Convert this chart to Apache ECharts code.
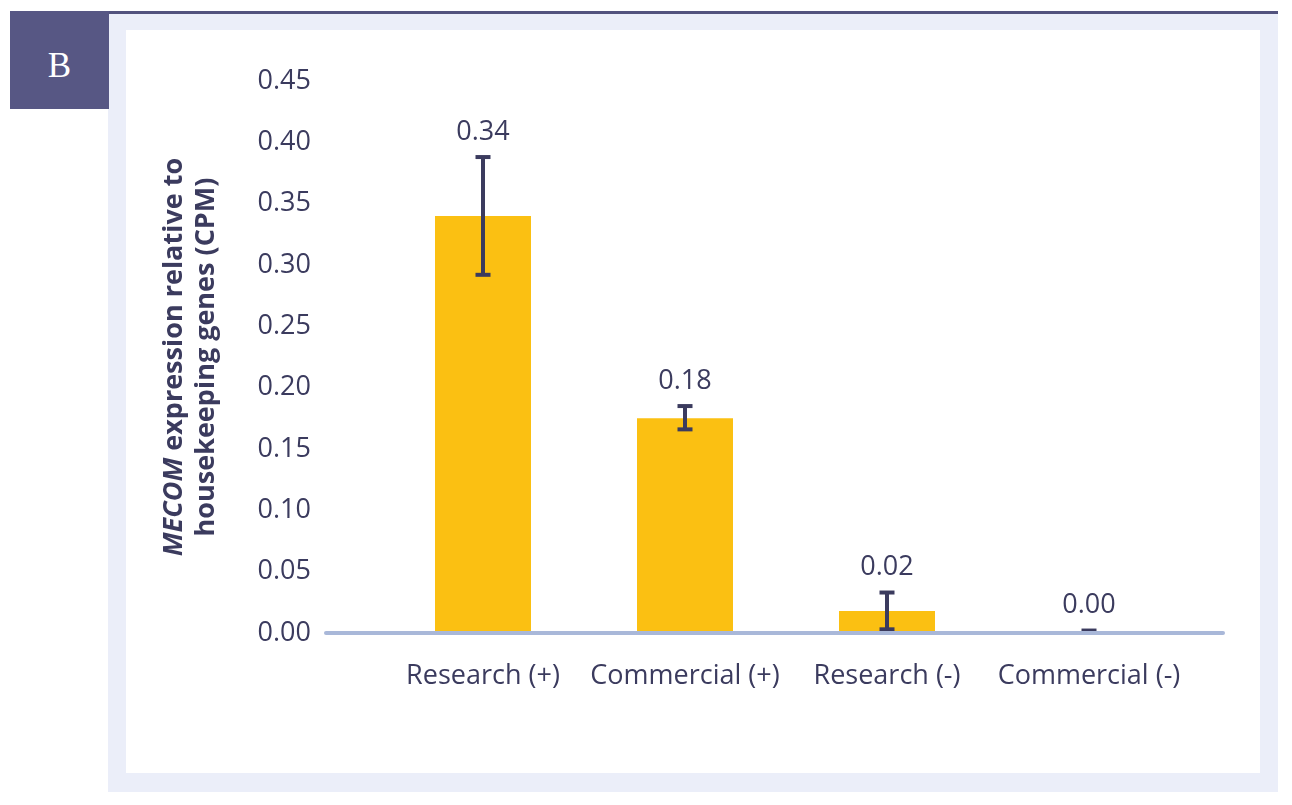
<!DOCTYPE html>
<html lang="en">
    <head>
        <meta charset='utf-8'>
        <title>MECOM expression</title>
        <script src='https://cdn.jsdelivr.net/npm/echarts@6/dist/echarts.min.js'></script>
        <style>
            html, body { margin:0; padding:0; background:#fff; }
            #topLine { position:absolute; left:10px; top:11px; width:1268px; height:4px; background:#52527e; }
            #panel { position:absolute; left:108px; top:14px; width:1170px; height:778px; background:#ebeef9; }
            #inner { position:absolute; left:126px; top:30px; width:1134px; height:743px; background:#fff; }
            #tag { position:absolute; left:10px; top:11px; width:99px; height:98px; background:#575784;
                   color:#fff; font-family:'Liberation Serif', serif; font-size:35px; line-height:110px; text-align:center; }
            #main { position:absolute; left:0; top:0; width:1292px; height:805px; }
        </style>
    </head>
    <body>
        <div id='topLine'></div>
        <div id='panel'></div>
        <div id='inner'></div>
        <div id='tag'>B</div>
        <div id='main'></div>
        <script>
            // data
            var categories = ['Research (+)', 'Commercial (+)', 'Research (-)', 'Commercial (-)'];
            var means      = [0.34, 0.175, 0.018, 0.0];
            var errLow     = [0.292, 0.166, 0.003, 0.0];
            var errHigh    = [0.388, 0.185, 0.033, 0.002];
            var valueLabels = ['0.34', '0.18', '0.02', '0.00'];
            var yTicks = [0, 0.05, 0.10, 0.15, 0.20, 0.25, 0.30, 0.35, 0.40, 0.45];

            var textColor = '#3b3b5e';
            var font = "'Open Sans', sans-serif";

            var errData = categories.map(function (c, i) {
                return [i, errLow[i], errHigh[i]];
            });

            var chart = echarts.init(document.getElementById('main'));
            var option = {
                animation: false,
                textStyle: { fontFamily: font, color: textColor },
                grid: [
                    { left: 382, right: 102, top: 81, bottom: 172 },   // bars
                    { left: 326, right: 69, top: 81, bottom: 172 }     // long baseline
                ],
                xAxis: [
                    {
                        type: 'category',
                        gridIndex: 0,
                        data: categories,
                        axisLine: { show: false },
                        axisTick: { show: false },
                        axisLabel: { fontSize: 27, color: textColor, margin: 30, fontFamily: font, interval: 0 }
                    },
                    {
                        type: 'value',
                        gridIndex: 1,
                        z: 5,
                        axisLine: { show: true, onZero: false, lineStyle: { color: '#a9b8d9', width: 4 } },
                        axisTick: { show: false },
                        axisLabel: { show: false },
                        splitLine: { show: false }
                    }
                ],
                yAxis: [
                    {
                        type: 'value',
                        gridIndex: 0,
                        min: yTicks[0],
                        max: yTicks[yTicks.length - 1],
                        interval: 0.05,
                        axisLine: { show: false },
                        axisTick: { show: false },
                        splitLine: { show: false },
                        axisLabel: {
                            fontSize: 27, color: textColor, margin: 71, fontFamily: font,
                            formatter: function (v) { return v.toFixed(2); }
                        },
                        name: '{i|MECOM} expression relative to\nhousekeeping genes (CPM)',
                        nameLocation: 'middle',
                        nameGap: 160,
                        nameRotate: 90,
                        nameTextStyle: {
                            fontSize: 27, fontWeight: 'bold', color: textColor, fontFamily: font,
                            lineHeight: 32, align: 'center',
                            rich: {
                                i: { fontSize: 27, fontWeight: 'bold', fontStyle: 'italic', color: textColor, fontFamily: font, lineHeight: 32 }
                            }
                        }
                    },
                    {
                        type: 'value',
                        gridIndex: 1,
                        show: false
                    }
                ],
                series: [
                    {
                        type: 'bar',
                        xAxisIndex: 0,
                        yAxisIndex: 0,
                        data: means,
                        barWidth: 96,
                        itemStyle: { color: '#fbc012' },
                        z: 2
                    },
                    {
                        type: 'custom',
                        xAxisIndex: 0,
                        yAxisIndex: 0,
                        data: errData,
                        z: 4,
                        renderItem: function (params, api) {
                            var x = api.value(0);
                            var lo = api.coord([x, api.value(1)]);
                            var hi = api.coord([x, api.value(2)]);
                            var half = 7.5;
                            var st = { stroke: textColor, lineWidth: 4 };
                            return {
                                type: 'group',
                                children: [
                                    { type: 'line', shape: { x1: lo[0], y1: lo[1], x2: hi[0], y2: hi[1] }, style: st },
                                    { type: 'line', shape: { x1: hi[0] - half, y1: hi[1], x2: hi[0] + half, y2: hi[1] }, style: st },
                                    { type: 'line', shape: { x1: lo[0] - half, y1: lo[1], x2: lo[0] + half, y2: lo[1] }, style: st },
                                    {
                                        type: 'text',
                                        style: {
                                            x: hi[0], y: hi[1] - 25,
                                            text: valueLabels[params.dataIndex],
                                            fill: textColor, font: '27px ' + font,
                                            align: 'center', verticalAlign: 'middle'
                                        }
                                    }
                                ]
                            };
                        }
                    }
                ]
            };
            chart.setOption(option);
        </script>
    </body>
</html>
